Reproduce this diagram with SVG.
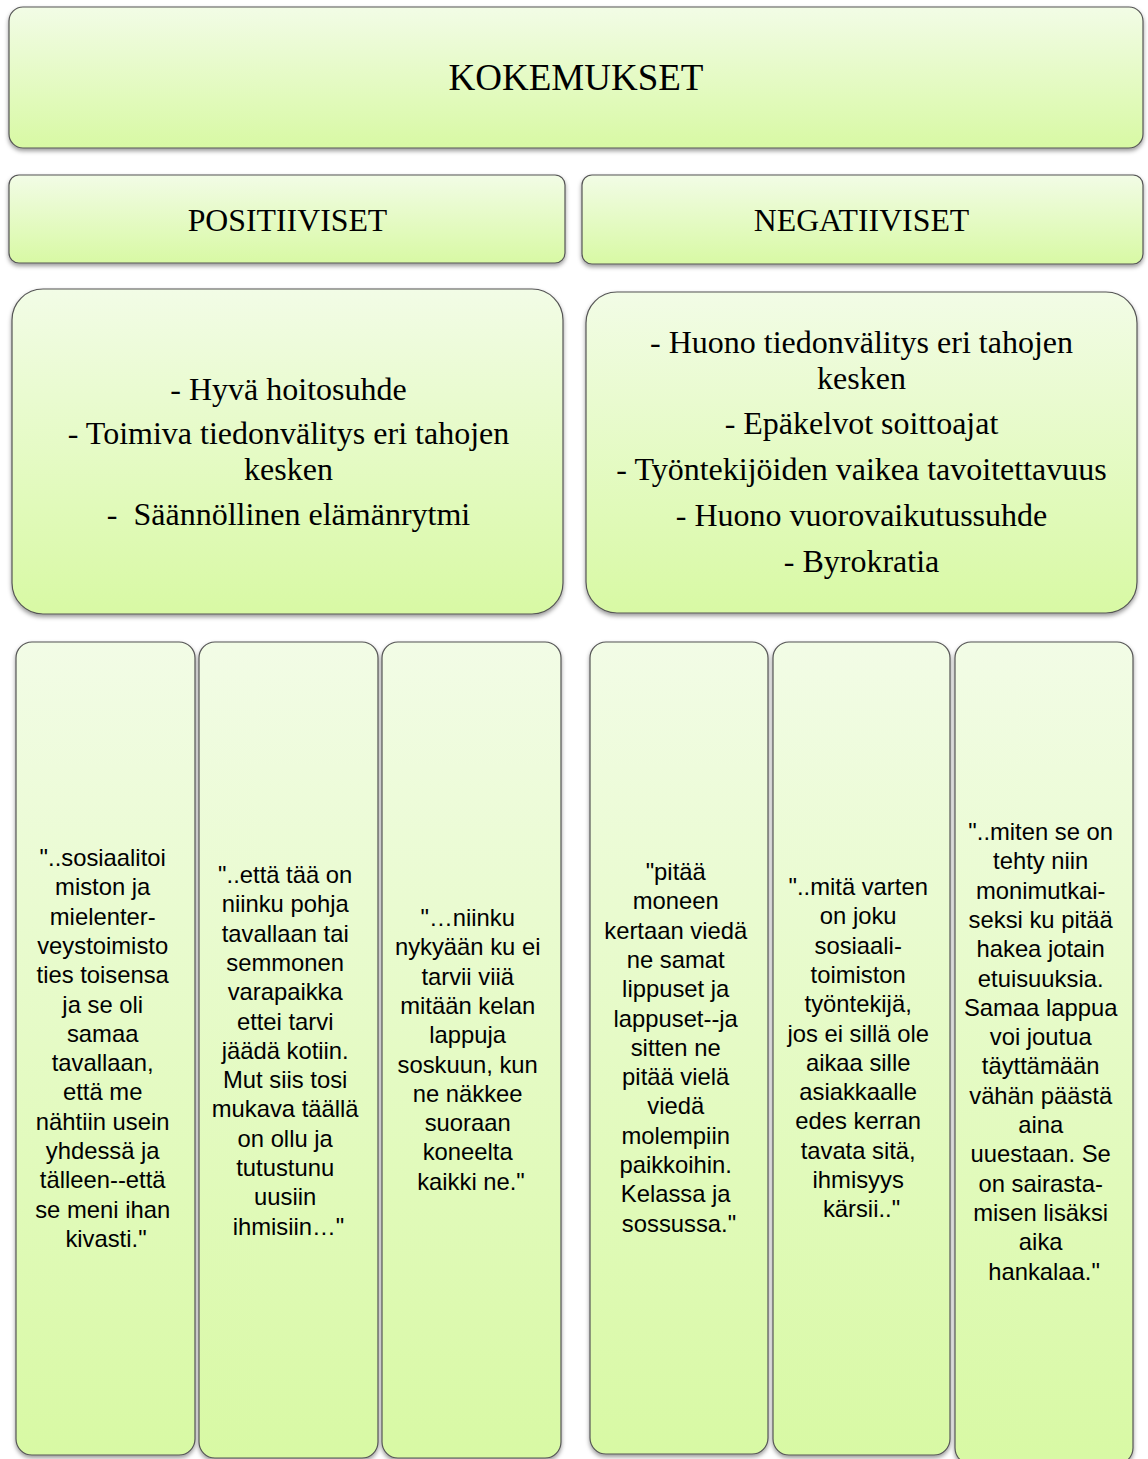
<svg xmlns="http://www.w3.org/2000/svg" width="1148" height="1459" viewBox="0 0 1148 1459">
<defs>
<linearGradient id="g" x1="0" y1="0" x2="0" y2="1">
<stop offset="0" stop-color="#f2fce6"/>
<stop offset="1" stop-color="#d8f9a4"/>
</linearGradient>
<filter id="sh" x="-5%" y="-5%" width="110%" height="115%">
<feDropShadow dx="0" dy="2.5" stdDeviation="2" flood-color="#000" flood-opacity="0.4"/>
</filter>
<style>
.box{fill:url(#g);stroke:#555;stroke-width:1.2;filter:url(#sh)}
.ser{font-family:"Liberation Serif","Times New Roman",serif;fill:#000;text-anchor:middle}
.h1{font-size:37px}
.h2{font-size:31.8px}
.b{font-size:32px}
.q{font-family:"Liberation Sans",Arial,sans-serif;font-size:23.8px;fill:#000;text-anchor:middle}
</style>
</defs>
<rect width="1148" height="1459" fill="#fff"/>
<g id="connectors"></g>

<g id="kokemukset">
<rect class="box" x="9" y="7" width="1134" height="141" rx="14"/>
<text class="ser h1" x="576" y="90">KOKEMUKSET</text>
</g>

<g id="positiiviset">
<rect class="box" x="9" y="175" width="556" height="88" rx="10"/>
<text class="ser h2" x="287.5" y="231">POSITIIVISET</text>
</g>

<g id="negatiiviset">
<rect class="box" x="582" y="175" width="561" height="89" rx="10"/>
<text class="ser h2" x="861.5" y="231">NEGATIIVISET</text>
</g>

<g id="pos-list">
<rect class="box" x="12" y="289" width="551" height="325" rx="31"/>
<text class="ser b" x="288.5" y="400">- Hyvä hoitosuhde</text>
<text class="ser b"><tspan x="288.5" y="444">- Toimiva tiedonvälitys eri tahojen</tspan><tspan x="288.5" y="480">kesken</tspan></text>
<text class="ser b" x="288.5" y="525" xml:space="preserve">-  Säännöllinen elämänrytmi</text>
</g>

<g id="neg-list">
<rect class="box" x="586" y="292" width="551" height="321" rx="31"/>
<text class="ser b"><tspan x="861.5" y="353">- Huono tiedonvälitys eri tahojen</tspan><tspan x="861.5" y="389">kesken</tspan></text>
<text class="ser b" x="861.5" y="434">- Epäkelvot soittoajat</text>
<text class="ser b" x="861.5" y="480">- Työntekijöiden vaikea tavoitettavuus</text>
<text class="ser b" x="861.5" y="526">- Huono vuorovaikutussuhde</text>
<text class="ser b" x="861.5" y="572">- Byrokratia</text>
</g>

<g id="quote1">
<rect class="box" x="16" y="642" width="179" height="813" rx="16"/>
<text class="q">
<tspan x="106" y="866">"..sosiaalitoi</tspan>
<tspan x="106" dy="29.3">miston ja</tspan>
<tspan x="106" dy="29.3">mielenter-</tspan>
<tspan x="106" dy="29.3">veystoimisto</tspan>
<tspan x="106" dy="29.3">ties toisensa</tspan>
<tspan x="106" dy="29.3">ja se oli</tspan>
<tspan x="106" dy="29.3">samaa</tspan>
<tspan x="106" dy="29.3">tavallaan,</tspan>
<tspan x="106" dy="29.3">että me</tspan>
<tspan x="106" dy="29.3">nähtiin usein</tspan>
<tspan x="106" dy="29.3">yhdessä ja</tspan>
<tspan x="106" dy="29.3">tälleen--että</tspan>
<tspan x="106" dy="29.3">se meni ihan</tspan>
<tspan x="106" dy="29.3">kivasti."</tspan>
</text>
</g>

<g id="quote2">
<rect class="box" x="199" y="642" width="179" height="816" rx="16"/>
<text class="q">
<tspan x="288.5" y="883">"..että tää on</tspan>
<tspan x="288.5" dy="29.3">niinku pohja</tspan>
<tspan x="288.5" dy="29.3">tavallaan tai</tspan>
<tspan x="288.5" dy="29.3">semmonen</tspan>
<tspan x="288.5" dy="29.3">varapaikka</tspan>
<tspan x="288.5" dy="29.3">ettei tarvi</tspan>
<tspan x="288.5" dy="29.3">jäädä kotiin.</tspan>
<tspan x="288.5" dy="29.3">Mut siis tosi</tspan>
<tspan x="288.5" dy="29.3">mukava täällä</tspan>
<tspan x="288.5" dy="29.3">on ollu ja</tspan>
<tspan x="288.5" dy="29.3">tutustunu</tspan>
<tspan x="288.5" dy="29.3">uusiin</tspan>
<tspan x="288.5" dy="29.3">ihmisiin…"</tspan>
</text>
</g>

<g id="quote3">
<rect class="box" x="382" y="642" width="179" height="816" rx="16"/>
<text class="q">
<tspan x="471" y="926">"…niinku</tspan>
<tspan x="471" dy="29.3">nykyään ku ei</tspan>
<tspan x="471" dy="29.3">tarvii viiä</tspan>
<tspan x="471" dy="29.3">mitään kelan</tspan>
<tspan x="471" dy="29.3">lappuja</tspan>
<tspan x="471" dy="29.3">soskuun, kun</tspan>
<tspan x="471" dy="29.3">ne näkkee</tspan>
<tspan x="471" dy="29.3">suoraan</tspan>
<tspan x="471" dy="29.3">koneelta</tspan>
<tspan x="471" dy="29.3">kaikki ne."</tspan>
</text>
</g>

<g id="quote4">
<rect class="box" x="590" y="642" width="178" height="812" rx="16"/>
<text class="q">
<tspan x="679" y="880">"pitää</tspan>
<tspan x="679" dy="29.3">moneen</tspan>
<tspan x="679" dy="29.3">kertaan viedä</tspan>
<tspan x="679" dy="29.3">ne samat</tspan>
<tspan x="679" dy="29.3">lippuset ja</tspan>
<tspan x="679" dy="29.3">lappuset--ja</tspan>
<tspan x="679" dy="29.3">sitten ne</tspan>
<tspan x="679" dy="29.3">pitää vielä</tspan>
<tspan x="679" dy="29.3">viedä</tspan>
<tspan x="679" dy="29.3">molempiin</tspan>
<tspan x="679" dy="29.3">paikkoihin.</tspan>
<tspan x="679" dy="29.3">Kelassa ja</tspan>
<tspan x="679" dy="29.3">sossussa."</tspan>
</text>
</g>

<g id="quote5">
<rect class="box" x="773" y="642" width="177" height="813" rx="16"/>
<text class="q">
<tspan x="861.5" y="895">"..mitä varten</tspan>
<tspan x="861.5" dy="29.3">on joku</tspan>
<tspan x="861.5" dy="29.3">sosiaali-</tspan>
<tspan x="861.5" dy="29.3">toimiston</tspan>
<tspan x="861.5" dy="29.3">työntekijä,</tspan>
<tspan x="861.5" dy="29.3">jos ei sillä ole</tspan>
<tspan x="861.5" dy="29.3">aikaa sille</tspan>
<tspan x="861.5" dy="29.3">asiakkaalle</tspan>
<tspan x="861.5" dy="29.3">edes kerran</tspan>
<tspan x="861.5" dy="29.3">tavata sitä,</tspan>
<tspan x="861.5" dy="29.3">ihmisyys</tspan>
<tspan x="861.5" dy="29.3">kärsii.."</tspan>
</text>
</g>

<g id="quote6">
<rect class="box" x="955" y="642" width="178" height="822" rx="16"/>
<text class="q">
<tspan x="1044" y="840">"..miten se on</tspan>
<tspan x="1044" dy="29.3">tehty niin</tspan>
<tspan x="1044" dy="29.3">monimutkai-</tspan>
<tspan x="1044" dy="29.3">seksi ku pitää</tspan>
<tspan x="1044" dy="29.3">hakea jotain</tspan>
<tspan x="1044" dy="29.3">etuisuuksia.</tspan>
<tspan x="1044" dy="29.3">Samaa lappua</tspan>
<tspan x="1044" dy="29.3">voi joutua</tspan>
<tspan x="1044" dy="29.3">täyttämään</tspan>
<tspan x="1044" dy="29.3">vähän päästä</tspan>
<tspan x="1044" dy="29.3">aina</tspan>
<tspan x="1044" dy="29.3">uuestaan. Se</tspan>
<tspan x="1044" dy="29.3">on sairasta-</tspan>
<tspan x="1044" dy="29.3">misen lisäksi</tspan>
<tspan x="1044" dy="29.3">aika</tspan>
<tspan x="1044" dy="29.3">hankalaa."</tspan>
</text>
</g>
</svg>
